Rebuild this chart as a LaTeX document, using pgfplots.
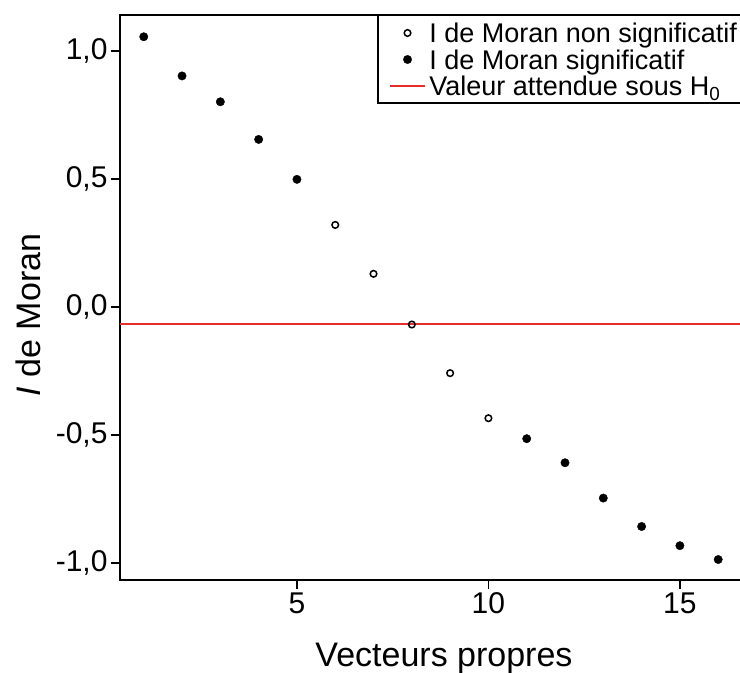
\documentclass[border=0pt]{standalone}
\usepackage{fontspec}
\setmainfont{Liberation Sans}
\usepackage{pgfplots}
\pgfplotsset{compat=1.18}
\definecolor{hred}{RGB}{232,45,40}
\begin{document}
\begin{tikzpicture}
\useasboundingbox (-120bp,-93bp) rectangle (620bp,580bp);
\clip (-120bp,-93bp) rectangle (620bp,580bp);
\begin{axis}[
 at={(0,0)}, anchor=south west,
 scale only axis, width=636.5bp, height=565bp,
 xmin=0.38, xmax=17, ymin=-1.066, ymax=1.141,
 axis line style={line width=1.5bp},
 tick align=outside, xtick pos=left, ytick pos=left,
 major tick length=9bp,
 every tick/.style={line width=1.5bp, black},
 xtick={5,10,15}, ytick={-1,-0.5,0,0.5,1},
 /pgf/number format/assume math mode=true,
 yticklabel style={/pgf/number format/.cd, fixed, fixed zerofill, precision=1, use comma},
 ticklabel style={font=\fontsize{30bp}{36bp}\selectfont},
 xlabel={Vecteurs propres}, ylabel={\textit{I} de Moran},
 label style={font=\fontsize{34bp}{40bp}\selectfont},
 xlabel style={at={(axis description cs:0.509,-0.138)}, anchor=center},
 ylabel style={at={(axis description cs:-0.1445,0.469)}, anchor=center},
 legend style={at={(axis description cs:0.4038,1)}, anchor=north west,
   draw=black, line width=1.5bp, inner xsep=11bp, inner ysep=4bp,
   column sep=3bp, row sep=0bp,
   font=\fontsize{27bp}{32bp}\selectfont,
   nodes={inner sep=0bp, text height=23bp, text depth=3.5bp}},
 legend cell align=left,
 legend image code/.code={\draw[mark repeat=2,mark phase=2] plot coordinates {(0bp,0bp)(17.5bp,0bp)(35bp,0bp)};},
]
\addplot[hred, line width=2.5bp, forget plot] coordinates {(0.38,-0.0667) (17,-0.0667)};
\addplot[only marks, mark=o, black, mark size=3.3bp, mark options={line width=1.5bp}] coordinates {
 (6,0.321) (7,0.130) (8,-0.068) (9,-0.258) (10,-0.434)};
\addlegendentry{I de Moran non significatif}
\addplot[only marks, mark=*, black, mark size=4.2bp, mark options={line width=0.4bp}] coordinates {
 (1,1.056) (2,0.903) (3,0.802) (4,0.655) (5,0.499)
 (11,-0.514) (12,-0.608) (13,-0.746) (14,-0.857) (15,-0.932) (16,-0.986)};
\addlegendentry{I de Moran significatif}
\addlegendimage{hred, line width=2.5bp}
\addlegendentry{Valeur attendue sous H\textsubscript{0}}
\end{axis}
\end{tikzpicture}
\end{document}
